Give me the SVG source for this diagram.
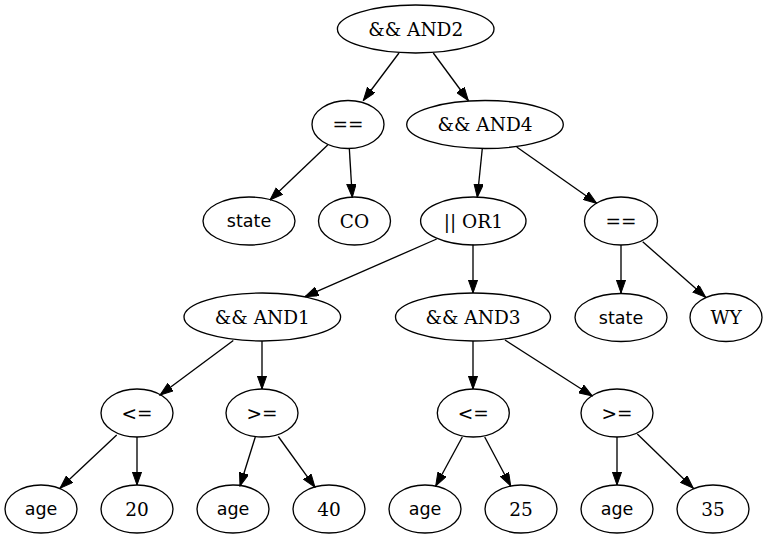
<svg xmlns="http://www.w3.org/2000/svg" width="768" height="539" viewBox="0 0 768 539">
  <style>
    .node ellipse { fill: none; stroke: #000; stroke-width: 1.33; }
    .node text { font-family: "DejaVu Serif", "Liberation Serif", serif; font-size: 18.5px; text-anchor: middle; fill: #000; }
    .node text.sans { font-family: "DejaVu Sans", "Liberation Sans", sans-serif; font-size: 17.5px; }
    #edges line { stroke: #000; stroke-width: 1.33; marker-end: url(#arrow); }
  </style>
  <defs>
    <marker id="arrow" markerUnits="userSpaceOnUse" markerWidth="14" markerHeight="10" refX="13.3" refY="4.7" orient="auto">
      <path d="M0,0 L13.3,4.7 L0,9.4 Z" fill="#000" stroke="#000" stroke-width="1"/>
    </marker>
  </defs>
  <rect width="768" height="539" fill="#fff"/>

  <g id="edges">
    <line x1="399" y1="53" x2="363.3" y2="100.5"/>
    <line x1="433.3" y1="53" x2="468.3" y2="100.5"/>
    <line x1="327.7" y1="145" x2="270" y2="200"/>
    <line x1="349.3" y1="148.5" x2="352.3" y2="197.3"/>
    <line x1="482.3" y1="148.5" x2="477.3" y2="197.3"/>
    <line x1="516.7" y1="147" x2="596.7" y2="203.3"/>
    <line x1="621" y1="245" x2="621" y2="293"/>
    <line x1="642.7" y1="241.7" x2="705.7" y2="297.3"/>
    <line x1="436.7" y1="239" x2="305" y2="296.7"/>
    <line x1="473" y1="244.5" x2="473" y2="293"/>
    <line x1="233.3" y1="340.5" x2="160" y2="395"/>
    <line x1="262" y1="341" x2="262" y2="389"/>
    <line x1="473" y1="341" x2="473" y2="389"/>
    <line x1="505" y1="340" x2="592.3" y2="396"/>
    <line x1="116.7" y1="435" x2="60" y2="488.3"/>
    <line x1="137" y1="437" x2="137" y2="485"/>
    <line x1="255.3" y1="437" x2="240" y2="486"/>
    <line x1="278.3" y1="436.5" x2="315" y2="487.3"/>
    <line x1="462.3" y1="437" x2="435.7" y2="486"/>
    <line x1="484.7" y1="437" x2="510.7" y2="486"/>
    <line x1="617" y1="437" x2="617" y2="485"/>
    <line x1="637.3" y1="434" x2="693.3" y2="488.3"/>
  </g>

  <g id="and2" class="node"><ellipse cx="415.7" cy="29" rx="78.3" ry="24"/><text x="415.7" y="35.5">&amp;&amp; AND2</text></g>
  <g id="eq1" class="node"><ellipse cx="348" cy="124.5" rx="36" ry="24"/><text x="348" y="131">==</text></g>
  <g id="and4" class="node"><ellipse cx="485" cy="124.5" rx="78.3" ry="24"/><text x="485" y="131">&amp;&amp; AND4</text></g>
  <g id="state1" class="node"><ellipse cx="249" cy="221" rx="46" ry="24"/><text class="sans" x="249" y="227">state</text></g>
  <g id="co" class="node"><ellipse cx="354.5" cy="221" rx="36" ry="24"/><text x="354.5" y="227.5">CO</text></g>
  <g id="or1" class="node"><ellipse cx="473.3" cy="221" rx="52.7" ry="24"/><text x="473.3" y="227.5">|| OR1</text></g>
  <g id="eq2" class="node"><ellipse cx="621" cy="221" rx="36.5" ry="24"/><text x="621" y="227.5">==</text></g>
  <g id="and1" class="node"><ellipse cx="262.3" cy="317" rx="78.3" ry="24"/><text x="262.3" y="323.5">&amp;&amp; AND1</text></g>
  <g id="and3" class="node"><ellipse cx="473" cy="317" rx="77.5" ry="24"/><text x="473" y="323.5">&amp;&amp; AND3</text></g>
  <g id="state2" class="node"><ellipse cx="621" cy="317.5" rx="46" ry="24"/><text class="sans" x="621" y="323.5">state</text></g>
  <g id="wy" class="node"><ellipse cx="726" cy="317.5" rx="36" ry="24"/><text x="726" y="324">WY</text></g>
  <g id="le1" class="node"><ellipse cx="137" cy="413" rx="36" ry="24"/><text x="137" y="419.5">&lt;=</text></g>
  <g id="ge1" class="node"><ellipse cx="262" cy="413" rx="36" ry="24"/><text x="262" y="419.5">&gt;=</text></g>
  <g id="le2" class="node"><ellipse cx="473.3" cy="413" rx="36" ry="24"/><text x="473.3" y="419.5">&lt;=</text></g>
  <g id="ge2" class="node"><ellipse cx="617" cy="413" rx="36" ry="24"/><text x="617" y="419.5">&gt;=</text></g>
  <g id="age1" class="node"><ellipse cx="41" cy="509" rx="36" ry="24"/><text class="sans" x="41" y="515">age</text></g>
  <g id="n20" class="node"><ellipse cx="137" cy="509" rx="36" ry="24"/><text x="137" y="515.5">20</text></g>
  <g id="age2" class="node"><ellipse cx="233" cy="509" rx="36" ry="24"/><text class="sans" x="233" y="515">age</text></g>
  <g id="n40" class="node"><ellipse cx="329" cy="509" rx="36" ry="24"/><text x="329" y="515.5">40</text></g>
  <g id="age3" class="node"><ellipse cx="425" cy="509" rx="36" ry="24"/><text class="sans" x="425" y="515">age</text></g>
  <g id="n25" class="node"><ellipse cx="521" cy="509" rx="36" ry="24"/><text x="521" y="515.5">25</text></g>
  <g id="age4" class="node"><ellipse cx="617" cy="509" rx="36" ry="24"/><text class="sans" x="617" y="515">age</text></g>
  <g id="n35" class="node"><ellipse cx="713" cy="509" rx="36" ry="24"/><text x="713" y="515.5">35</text></g>
</svg>
